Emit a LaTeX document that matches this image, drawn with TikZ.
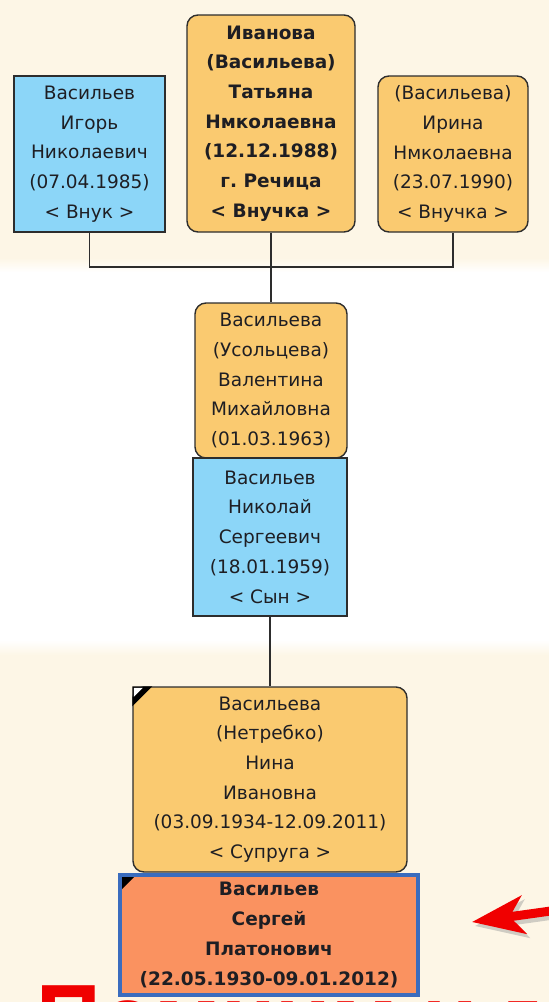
\documentclass[tikz,border=0pt]{standalone}
\usepackage{fontspec}
\setmainfont{DejaVu Sans}
\newfontfamily\titlefont{Liberation Sans}
\usetikzlibrary{arrows.meta,positioning}
\definecolor{bgbeige}{RGB}{253,246,230}
\definecolor{femfill}{RGB}{250,202,112}
\definecolor{malefill}{RGB}{140,214,248}
\definecolor{selffill}{RGB}{250,146,96}
\definecolor{selfline}{RGB}{58,108,190}
\definecolor{boxline}{RGB}{45,45,45}
\definecolor{inktext}{RGB}{30,30,35}
\definecolor{arrowred}{RGB}{240,0,0}
\tikzset{
  person/.style={draw=boxline, line width=1.4pt, align=center, inner sep=0pt,
    text=inktext, font=\fontsize{18.5}{29.7}\selectfont},
  female/.style={person, fill=femfill, rounded corners=11pt},
  male/.style={person, fill=malefill},
  self/.style={person, fill=selffill, draw=selfline, line width=4pt,
    font=\fontsize{18.5}{29.7}\selectfont\bfseries},
  link/.style={draw=boxline, line width=1.4pt},
  bigarrow/.style={line width=9pt, -{Stealth[length=52pt,width=38pt,inset=14pt]}}
}

\begin{document}
\frenchspacing
\begin{tikzpicture}[x=1pt,y=1pt]
  \useasboundingbox (0,0) rectangle (549,-1002);
  \clip (0,0) rectangle (549,-1002);
  % background bands
  \fill[bgbeige] (0,0) rectangle (549,-258);
  \shade[top color=bgbeige, bottom color=white] (0,-258) rectangle (549,-272);
  \fill[white] (0,-272) rectangle (549,-640);
  \shade[top color=white, bottom color=bgbeige] (0,-640) rectangle (549,-655);
  \fill[bgbeige] (0,-655) rectangle (549,-1002);

  % title, cut by the page edge
  \node[anchor=base west, inner sep=0pt, text=arrowred,
        font=\titlefont\bfseries\fontsize{100}{105}\selectfont] (title) at (36,-1054.5)
    {\scalebox{0.9}[1]{Помним и гордимся}};

  % grandchildren
  \node[male, minimum width=151pt, minimum height=156pt] (igor) at (89.5,-154)
    {Васильев\\Игорь\\Николаевич\\(07.04.1985)\\< Внук >};
  \node[female, minimum width=168pt, minimum height=217pt, font=\fontsize{18.5}{29.7}\selectfont\bfseries] (tatyana) at (271,-123.5)
    {Иванова\\(Васильева)\\Татьяна\\Нмколаевна\\(12.12.1988)\\г. Речица\\< Внучка >};
  \node[female, minimum width=150pt, minimum height=156pt] (irina) at (453,-154)
    {(Васильева)\\Ирина\\Нмколаевна\\(23.07.1990)\\< Внучка >};

  % son and his wife
  \node[female, minimum width=152pt, minimum height=155pt] (valentina) at (271,-380.5)
    {Васильева\\(Усольцева)\\Валентина\\Михайловна\\(01.03.1963)};
  \node[male, minimum width=154pt, minimum height=158pt] (nikolay) at (270,-537)
    {Васильев\\Николай\\Сергеевич\\(18.01.1959)\\< Сын >};

  % wife and self
  \node[female, minimum width=274pt, minimum height=185pt] (nina) at (270,-779.5)
    {Васильева\\(Нетребко)\\Нина\\Ивановна\\(03.09.1934-12.09.2011)\\< Супруга >};
  \node[self, minimum width=298pt, minimum height=120pt] (sergey) at (269,-935)
    {Васильев\\Сергей\\Платонович\\(22.05.1930-09.01.2012)};

  % corner marks
  \fill[black] (nina.north west) -- ++(20,0) -- ++(-20,-20) -- cycle;
  \fill[white] ([shift={(1.5,-1.5)}]nina.north west) -- ++(9,0) -- ++(-9,-9) -- cycle;
  \fill[black] ([shift={(4,-4)}]sergey.north west) -- ++(12,0) -- ++(-12,-12) -- cycle;

  % links
  \coordinate (fork) at (271,-267);
  \draw[link] (igor.south) |- (fork);
  \draw[link] (irina.south) |- (fork);
  \draw[link] (tatyana.south) -- (fork);
  \draw[link] (fork) -- (valentina.north);
  \draw[link] (nikolay.south) -- (nina.north);

  % pointer
  \coordinate (arrowtail) at (565,-909);
  \coordinate (arrowtip) at (472,-922);
  \draw[bigarrow, black!40, opacity=0.45, transform canvas={xshift=3pt,yshift=-4pt}] (arrowtail) -- (arrowtip);
  \draw[bigarrow, arrowred] (arrowtail) -- (arrowtip);
\end{tikzpicture}
\end{document}
